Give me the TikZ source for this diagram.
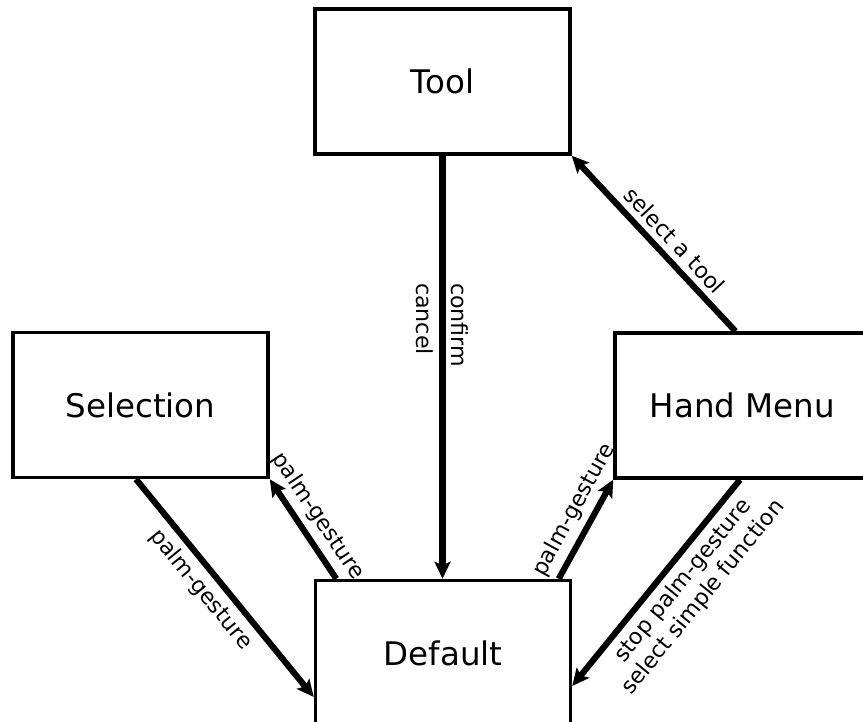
\documentclass[tikz,border=0pt]{standalone}
\usepackage{fontspec}
\setmainfont{DejaVu Sans}
\usetikzlibrary{arrows.meta}
\begin{document}
\begin{tikzpicture}[x=0.02cm,y=-0.02cm,
 state/.style={draw,line width=2pt,minimum width=5.1cm,minimum height=2.9cm,font=\fontsize{18.5}{22}\selectfont},
 trans/.style={line width=3.5pt,-{Stealth[length=0.34cm,width=0.32cm,inset=0.07cm]}},
 lbl/.style={font=\fontsize{12.6}{15}\selectfont,sloped}]
\useasboundingbox (0,0) rectangle (863,722);
%states
\node[state] (tool) at (442.5,81.5) {Tool};
\node[state] (sel) at (140.5,405) {Selection};
\node[state] (hand) at (742.5,405.5) {Hand Menu};
\node[state] (def) at (443,653) {Default};
%tool back to default
\draw[trans] (tool.south) -- (tool.south |- def.north)
 node[pos=0.28,rotate=-90,anchor=south west,font=\fontsize{12.6}{15}\selectfont]{confirm}
 node[pos=0.28,rotate=-90,anchor=north west,font=\fontsize{12.6}{15}\selectfont]{cancel};
%hand menu picks a tool
\draw[trans] ([xshift=-0.14cm]hand.north) -- (tool.south east) node[lbl,above,pos=0.45]{select a tool};
%palm gestures
\draw[trans] ([xshift=0.45cm]def.north west) -- (sel.south east) node[lbl,above,pos=0.52]{palm-gesture};
\draw[trans] ([xshift=-0.09cm]sel.south) -- ([yshift=-0.88cm]def.west) node[lbl,below,pos=0.45]{palm-gesture};
\draw[trans] ([xshift=-0.27cm]def.north east) -- (hand.south west) node[lbl,above,pos=0.6]{palm-gesture};
\draw[trans] ([xshift=-0.05cm]hand.south) -- ([yshift=-0.66cm]def.east)
 node[lbl,below,pos=0.43,align=center]{stop palm-gesture\\select simple function};
\end{tikzpicture}
\end{document}
